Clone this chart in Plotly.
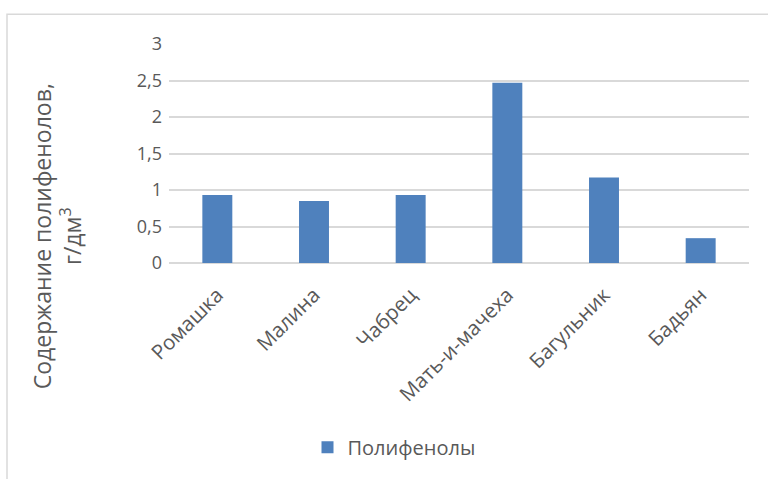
import plotly.graph_objects as go

categories = ["Ромашка", "Малина", "Чабрец", "Мать-и-мачеха", "Багульник", "Бадьян"]
values = [0.93, 0.85, 0.93, 2.47, 1.17, 0.34]
series_name = "Полифенолы"
ytick_vals = [0, 0.5, 1, 1.5, 2, 2.5, 3]
ytick_text = ["0", "0,5", "1", "1,5", "2", "2,5", "3"]

FONT = "Open Sans"
GREY = "#595959"

fig = go.Figure()
fig.add_trace(go.Bar(x=categories, y=values, name=series_name,
                     marker=dict(color="#4F81BD", line=dict(width=0)), width=0.31))

L, R, T, B = 169, 19, 44, 214
W, H = 768, 479
pw, ph = W - L - R, H - T - B

fig.update_layout(
    width=W, height=H,
    margin=dict(l=L, r=R, t=T, b=B),
    paper_bgcolor="white", plot_bgcolor="white",
    font=dict(family=FONT, color=GREY, size=17),
    showlegend=True,
    legend=dict(orientation="h", x=(394 - L) / pw, xanchor="center",
                y=(265 - 451) / ph, yanchor="middle", itemwidth=30,
                font=dict(size=20, color=GREY, family=FONT)),
    xaxis=dict(tickangle=-45, tickfont=dict(size=20.5, color=GREY, family=FONT),
               showgrid=False, showline=False, ticks="", ticklabelstandoff=15),
    yaxis=dict(range=[0, 3], tickvals=ytick_vals, ticktext=ytick_text,
               tickfont=dict(size=18, color=GREY, family=FONT),
               showgrid=True, gridcolor="#D9D9D9", gridwidth=1.5,
               zeroline=True, zerolinecolor="#D9D9D9", zerolinewidth=1.5,
               showline=False, ticks="", ticklabelstandoff=6),
)

fig.add_annotation(
    text="Содержание полифенолов,<br>г/дм<sup>3</sup>",
    textangle=-90, xref="paper", yref="paper",
    x=(57 - L) / pw, y=(265 - 238) / ph, xanchor="center", yanchor="middle",
    showarrow=False, font=dict(size=23, color=GREY, family=FONT),
)

fig.add_shape(type="rect", xref="paper", yref="paper",
              x0=(7 - L) / pw, x1=(790 - L) / pw,
              y0=(265 - 500) / ph, y1=(265 - 14) / ph,
              line=dict(color="#D9D9D9", width=1.5), fillcolor="rgba(0,0,0,0)",
              layer="below")

fig.write_html("out.html")
